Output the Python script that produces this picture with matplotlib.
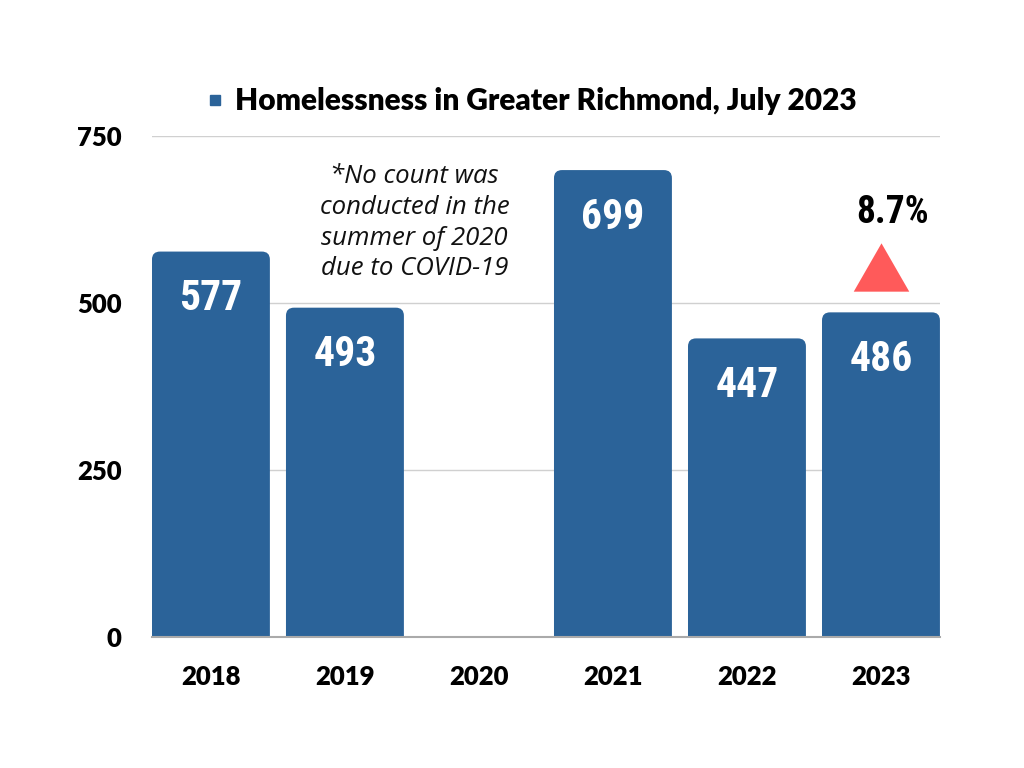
import matplotlib.pyplot as plt
from matplotlib.patches import FancyBboxPatch
from matplotlib.lines import Line2D
from matplotlib.transforms import offset_copy

years = ['2018', '2019', '2020', '2021', '2022', '2023']
counts = [577, 493, None, 699, 447, 486]
yticks = [0, 250, 500, 750]
change_label = '8.7%'
note = '*No count was\nconducted in the\nsummer of 2020\ndue to COVID-19'
title = 'Homelessness in Greater Richmond, July 2023'

blue = '#2b6399'
red = '#ff5a5a'
num_font = ['Roboto Condensed', 'DejaVu Sans']
lab_font = ['Lato', 'DejaVu Sans']

fig = plt.figure(figsize=(10.24, 7.68), dpi=100)
ax = fig.add_axes([0.1484, 0.1706, 0.7695, 0.6523])

x = list(range(len(years)))
heights = [c if c is not None else 0 for c in counts]
bars = ax.bar(x, heights, width=0.88, color=blue)
ax.set_xlim(-0.44, 5.44)
ax.set_ylim(0, 750)

# swap plain bars for ones with rounded top corners
fig.canvas.draw()
p0 = ax.transData.transform((0, 0))
p1 = ax.transData.transform((1, 1))
aspect = (p1[0] - p0[0]) / (p1[1] - p0[1])
r = 8 / (p1[0] - p0[0])
for b, c in zip(bars, counts):
    b.set_visible(False)
    if c is None:
        continue
    fb = FancyBboxPatch((b.get_x(), -30), b.get_width(), c + 30,
                        boxstyle='round,pad=0,rounding_size=%f' % r,
                        mutation_aspect=aspect, fc=blue, ec='none', zorder=2)
    ax.add_patch(fb)

for i, c in enumerate(counts):
    if c is None:
        continue
    ax.annotate(str(c), (i, c), xytext=(0, -34), textcoords='offset points',
                ha='center', va='center', color='white', fontsize=30,
                fontweight='bold', fontstretch='condensed', family=num_font)

ax.set_yticks(yticks)
ax.set_xticks(x)
ax.set_xticklabels(years)
ax.tick_params(length=0, labelsize=18.5)
ax.tick_params(axis='y', pad=22)
ax.tick_params(axis='x', pad=20)
for lab in ax.get_xticklabels() + ax.get_yticklabels():
    lab.set_fontweight('heavy')
    lab.set_family(lab_font)
ax.grid(axis='y', color='#d0d0d0', lw=1)
ax.set_axisbelow(True)
for s in ['top', 'right', 'left']:
    ax.spines[s].set_visible(False)
ax.spines['bottom'].set_color('#aaaaaa')
ax.spines['bottom'].set_linewidth(1.5)

ax.text(1.52, 620, note, ha='center', va='center', fontsize=18.5,
        style='italic', family=['Open Sans', 'DejaVu Sans'], linespacing=1.3,
        color='#111111')

# change indicator above the 2023 bar
tri = [(-1, -0.87), (1, -0.87), (0, 0.87)]
ax.plot(5, counts[-1], marker=tri, ms=40, color=red, mec='none',
        transform=offset_copy(ax.transData, fig, y=45, units='dots'))
ax.annotate(change_label, (5, counts[-1]), xytext=(8, 72), textcoords='offset points',
            ha='center', va='center', fontsize=27, fontweight='bold',
            fontstretch='condensed', family=num_font, color='black')

h = Line2D([], [], marker='s', ls='none', color=blue, ms=7)
fig.legend([h], [title], loc='center', bbox_to_anchor=(0.516, 0.868),
           frameon=False, handletextpad=0.2, handlelength=1,
           prop={'family': lab_font, 'weight': 'heavy', 'size': 21.5})

fig.savefig('out.png', dpi=100)
